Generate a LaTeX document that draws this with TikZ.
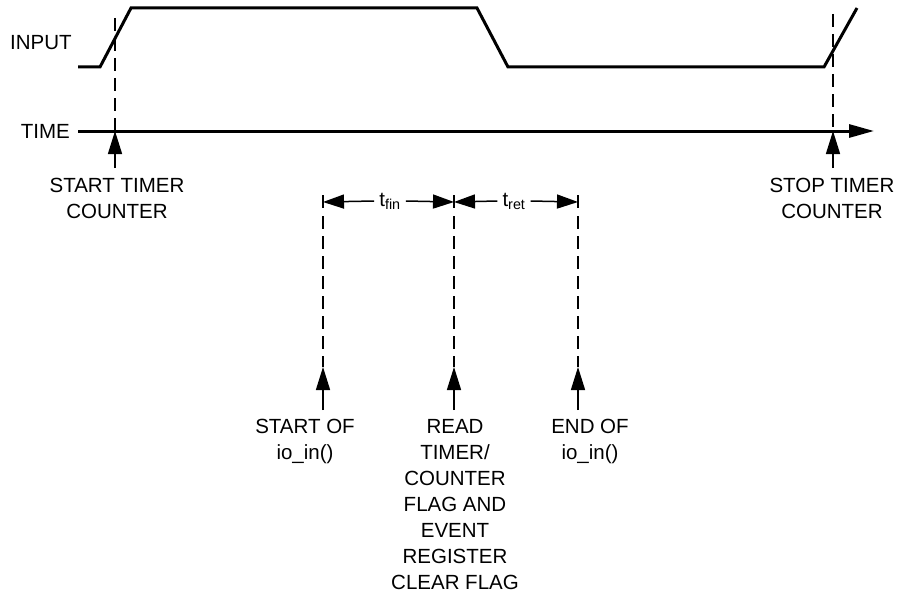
\documentclass[tikz,border=0pt]{standalone}
\usepackage{fontspec}
\setmainfont{Liberation Sans}
\usetikzlibrary{arrows.meta}
\begin{document}
\begin{tikzpicture}[x=1pt,y=-1pt,
  lbl/.style={font=\fontsize{20.5}{26}\selectfont, inner sep=0pt, align=center},
  wave/.style={line width=3pt, line join=miter},
  dsh/.style={line width=1.8pt, dash pattern=on 13pt off 7pt},
  upar/.style={line width=1.5pt, -{Triangle[length=23pt,width=14pt]}},
  dimar/.style={line width=1.5pt, -{Triangle[length=21pt,width=14pt]}},
  tick/.style={line width=1.8pt}]
\useasboundingbox (0,0) rectangle (905,594);
% labels
\node[lbl, anchor=west] (input) at (10,43) {INPUT};
\node[lbl, anchor=east] (time) at (70,131) {TIME};
% input waveform
\coordinate (w0) at (78,67);
\coordinate (w1) at (100,67);
\coordinate (w2) at (131,8);
\coordinate (w3) at (477,8);
\coordinate (w4) at (508,67);
\coordinate (w5) at (824,67);
\coordinate (w6) at (857,8);
\draw[wave] (w0) -- (w1) -- (w2) -- (w3) -- (w4) -- (w5) -- (w6);
% time axis
\coordinate (t0) at (78,131);
\coordinate (t1) at (874,131);
\draw[line width=3pt, -{Triangle[length=25pt,width=13pt]}] (t0) -- (t1);
% start / stop
\coordinate (sa) at (115,18);
\coordinate (sb) at (115,131);
\coordinate (sc) at (115,168);
\draw[dsh] (sa) -- (sb);
\draw[upar] (sc) -- (sb);
\node[lbl] (start) at (117,198) {START TIMER\\COUNTER};
\coordinate (pa) at (833,14);
\coordinate (pb) at (833,131);
\coordinate (pc) at (833,168);
\draw[dsh] (pa) -- (pb);
\draw[upar] (pc) -- (pb);
\node[lbl] (stop) at (832,198) {STOP TIMER\\COUNTER};
% dimension lines
\coordinate (da) at (323,202);
\coordinate (db) at (454,202);
\coordinate (dc) at (578,202);
\draw[tick] (323,195) -- (323,208);
\draw[tick] (454,195) -- (454,208);
\draw[tick] (578,195) -- (578,208);
\node[lbl] (tfin) at (390,201) {t\textsubscript{fin}};
\node[lbl] (tret) at (514,201) {t\textsubscript{ret}};
\draw[dimar] ([xshift=-5pt]tfin.west) -- (da);
\draw[dimar] ([xshift=5pt]tfin.east) -- (db);
\draw[dimar] ([xshift=-5pt]tret.west) -- (db);
\draw[dimar] ([xshift=5pt]tret.east) -- (dc);
% lower markers
\foreach \n/\x in {a/323,b/454,c/578}{
  \coordinate (l\n top) at (\x,216);
  \coordinate (l\n tip) at (\x,367);
  \coordinate (l\n bot) at (\x,410);
  \draw[dsh] (l\n top) -- (l\n tip);
  \draw[upar] (l\n bot) -- (l\n tip);
}
\node[lbl, anchor=north] (soa) at (305,419) {START OF\\io\_in()};
\node[lbl, anchor=north] (read) at (455,419) {READ\\TIMER/\\COUNTER\\FLAG AND\\EVENT\\REGISTER\\CLEAR FLAG};
\node[lbl, anchor=north] (eoa) at (590,419) {END OF\\io\_in()};
\end{tikzpicture}
\end{document}
